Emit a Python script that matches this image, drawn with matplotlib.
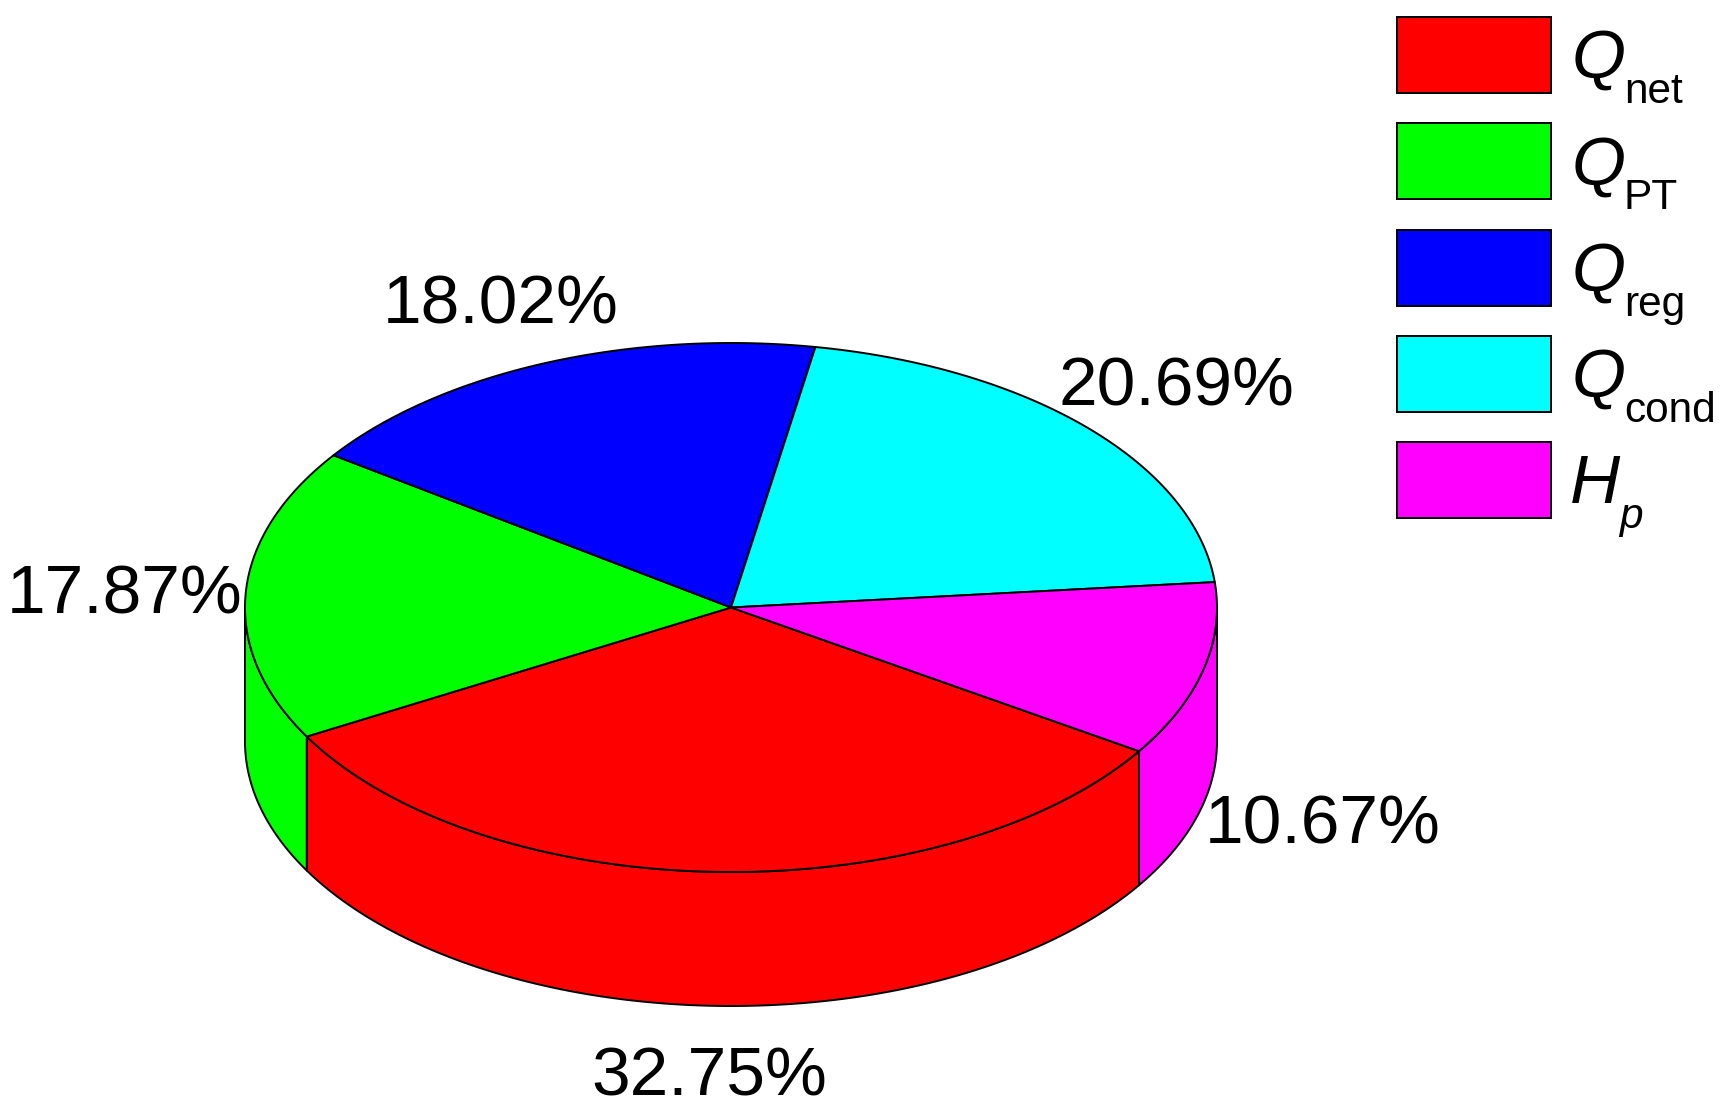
import matplotlib

matplotlib.use("Agg")
import matplotlib.pyplot as plt
import numpy as np
from matplotlib.patches import Polygon, Rectangle

plt.rcParams["font.family"] = ["Liberation Sans", "DejaVu Sans"]

# slices run clockwise from the red/magenta edge
symbols = ["Q", "Q", "Q", "Q", "H"]
subscripts = ["net", "PT", "reg", "cond", "p"]
percents = [32.75, 17.87, 18.02, 20.69, 10.67]
colors = ["#ff0000", "#00ff00", "#0000ff", "#00ffff", "#ff00ff"]

WIDTH, HEIGHT = 1724, 1116
CX, CY, RX, RY, DEPTH = 731, 607.5, 486, 264.5, 134
START_ANGLE = -32.9
LINE = 1.4
BIG = 50
SMALL = 30.5

# label anchor (left, baseline) in pixels
label_pos = [(591, 1096), (7, 613), (383, 324), (1059, 406), (1205, 843)]


def rim(a0, a1, dy=0.0):
    n = max(2, int(abs(a1 - a0) * 2))
    t = np.radians(np.linspace(a0, a1, n))
    return np.column_stack([CX + RX * np.cos(t), CY - RY * np.sin(t) + dy])


figure = plt.figure(figsize=(WIDTH / 100, HEIGHT / 100), dpi=100)
axis = figure.add_axes([0, 0, 1, 1])
axis.set_xlim(0, WIDTH)
axis.set_ylim(HEIGHT, 0)
axis.axis("off")

edges = START_ANGLE - np.cumsum([0] + [p * 3.6 for p in percents])

# walls: only the front half of the cylinder shows
for i, color in enumerate(colors):
    hi, lo = edges[i], edges[i + 1]
    # slices past a full turn come back round to the right hand side
    if lo < -360:
        hi, lo = hi + 360, lo + 360
    hi_w, lo_w = min(hi, 0), max(lo, -180)
    if lo_w >= hi_w:
        continue
    top = rim(hi_w, lo_w)
    bottom = rim(lo_w, hi_w, DEPTH)
    axis.add_patch(Polygon(np.vstack([top, bottom]), closed=True, facecolor=color,
                           edgecolor="black", linewidth=LINE, joinstyle="round", zorder=2))

# top faces
for i, color in enumerate(colors):
    outline = np.vstack([[CX, CY], rim(edges[i], edges[i + 1])])
    axis.add_patch(Polygon(outline, closed=True, facecolor=color, edgecolor="black",
                           linewidth=LINE, joinstyle="round", zorder=3))

for text, (x, y) in zip(percents, label_pos):
    axis.text(x, y, f"{text:.2f}%", fontsize=BIG, ha="left", va="baseline", zorder=5)

# legend
for i, color in enumerate(colors):
    y0 = 17 + i * 106.3
    axis.add_patch(Rectangle((1397, y0), 154, 76, facecolor=color, edgecolor="black",
                             linewidth=LINE, zorder=4))
    axis.text(1572 if symbols[i] == "Q" else 1570, y0 + 61, symbols[i], fontsize=BIG,
              style="italic", ha="left", va="baseline", zorder=5)
    axis.text(1624 if symbols[i] == "Q" else 1619, y0 + 86, subscripts[i], fontsize=SMALL,
              style="italic" if subscripts[i] == "p" else "normal",
              ha="left", va="baseline", zorder=5)

figure.savefig("out.png", dpi=100)
plt.close(figure)
